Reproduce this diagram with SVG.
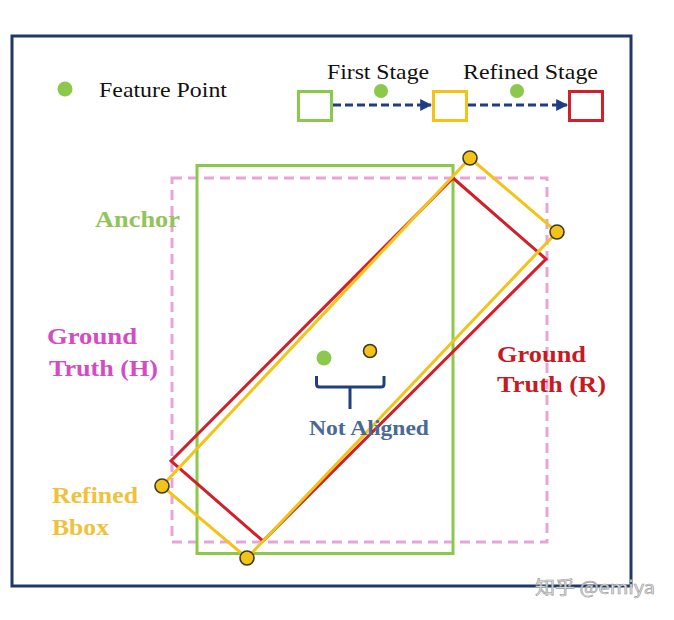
<svg xmlns="http://www.w3.org/2000/svg" width="674" height="620" viewBox="0 0 674 620">
<defs>
<marker id="ah" viewBox="0 0 10 10" refX="9" refY="5" markerWidth="4" markerHeight="4" orient="auto" markerUnits="strokeWidth">
<path d="M0,0 L10,5 L0,10 Z" fill="#1f3c88"/>
</marker>
<style>
.serif{font-family:"Liberation Serif","Times New Roman",serif}
.lg{font-size:21px;fill:#111}
.lbl{font-size:24px;font-weight:bold}
.box{fill:none;stroke-width:3}
.pt{fill:#f3c317;stroke:#3a3a2a;stroke-width:1.6}
.fp{fill:#8cc84b}
.conn{fill:none;stroke:#1f3c88;stroke-width:3;stroke-dasharray:8 4}
</style>
</defs>
<rect x="0" y="0" width="674" height="620" fill="#ffffff"/>
<g id="frame"><rect x="12" y="36" width="619" height="550" fill="none" stroke="#1f3864" stroke-width="3"/></g>

<g id="legend-feature">
<circle class="fp" cx="65" cy="89" r="7.5"/>
<text class="serif lg" x="99" y="97" textLength="128" lengthAdjust="spacingAndGlyphs">Feature Point</text>
</g>
<g id="legend-first"><rect class="box" x="298.5" y="91.5" width="33" height="29" stroke="#8cc84b"/></g>
<g id="legend-refined"><rect class="box" x="433.5" y="91.5" width="33" height="29" stroke="#f3c317"/></g>
<g id="legend-final"><rect class="box" x="569.5" y="91.5" width="33" height="29" stroke="#d0202a"/></g>
<g id="legend-labels">
<text class="serif lg" x="327" y="79" textLength="102" lengthAdjust="spacingAndGlyphs">First Stage</text>
<text class="serif lg" x="463" y="79" textLength="135" lengthAdjust="spacingAndGlyphs">Refined Stage</text>
<circle class="fp" cx="381" cy="91" r="7"/>
<circle class="fp" cx="517" cy="91" r="7"/>
</g>

<g id="gt-h-box"><rect x="172" y="178" width="375" height="364" fill="none" stroke="#e9a3dc" stroke-width="3" stroke-dasharray="10 6"/></g>
<g id="anchor-box"><rect class="box" x="197" y="165.5" width="256" height="388" stroke="#8cc84b"/></g>
<g id="gt-r-box"><polygon class="box" points="453,178 546,259 263,541 171,461" stroke="#d0202a" stroke-linejoin="miter"/></g>
<g id="refined-box">
<polygon class="box" points="470,158 557,232 247,558 162,486" stroke="#f3c317"/>
<circle class="pt" cx="470" cy="158" r="7"/>
<circle class="pt" cx="557" cy="232" r="7"/>
<circle class="pt" cx="247" cy="558" r="7"/>
<circle class="pt" cx="162" cy="486" r="7"/>
</g>

<g id="center-points">
<circle class="fp" cx="324" cy="358" r="7.5"/>
<circle class="pt" cx="370" cy="351" r="6.5"/>
</g>
<g id="brace"><path d="M316.5,376 V384 Q316.5,387 319.5,387 H381 Q384,387 384,384 V376 M350,387 V409" fill="none" stroke="#1f4080" stroke-width="3"/></g>

<g id="label-anchor"><text class="serif lbl" x="95" y="227" fill="#92c45a" textLength="85" lengthAdjust="spacingAndGlyphs">Anchor</text></g>
<g id="label-gt-h">
<text class="serif lbl" x="47" y="344" fill="#d44cc4" textLength="90" lengthAdjust="spacingAndGlyphs">Ground</text>
<text class="serif lbl" x="49" y="376" fill="#d44cc4" textLength="109" lengthAdjust="spacingAndGlyphs">Truth (H)</text>
</g>
<g id="label-gt-r">
<text class="serif lbl" x="497" y="362" fill="#c81a22" textLength="89" lengthAdjust="spacingAndGlyphs">Ground</text>
<text class="serif lbl" x="497" y="392" fill="#c81a22" textLength="109" lengthAdjust="spacingAndGlyphs">Truth (R)</text>
</g>
<g id="label-refined">
<text class="serif lbl" x="52" y="503" fill="#f0c23a" textLength="86" lengthAdjust="spacingAndGlyphs">Refined</text>
<text class="serif lbl" x="52" y="535" fill="#f0c23a" textLength="57" lengthAdjust="spacingAndGlyphs">Bbox</text>
</g>
<g id="label-not-aligned"><text class="serif" x="309" y="435" font-size="21" font-weight="bold" fill="#4b6996" textLength="120" lengthAdjust="spacingAndGlyphs">Not Aligned</text></g>

<g id="connectors">
<line class="conn" x1="333" y1="105" x2="431" y2="105" marker-end="url(#ah)"/>
<line class="conn" x1="468" y1="105" x2="567" y2="105" marker-end="url(#ah)"/>
</g>

<g id="watermark"><text x="535" y="594" font-family="'Noto Sans CJK SC','Noto Sans',sans-serif" font-size="18" fill="#e8e8e8" stroke="#9a9a9a" stroke-width="0.6" textLength="120" lengthAdjust="spacingAndGlyphs">知乎 @emiya</text></g>
</svg>
